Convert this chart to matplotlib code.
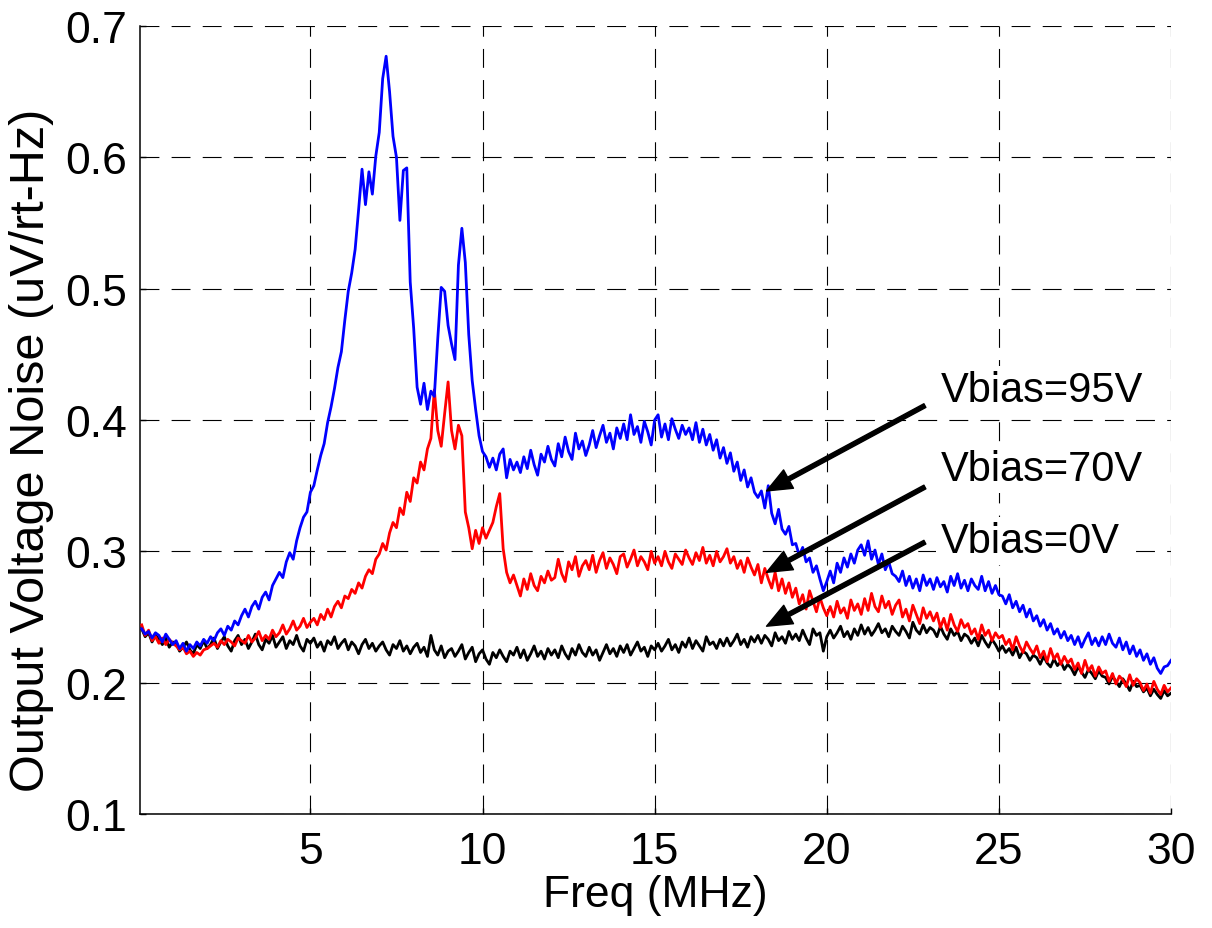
import matplotlib

matplotlib.use("Agg")
import matplotlib.pyplot as plt
import numpy as np

plt.rcParams["font.family"] = ["Liberation Sans", "DejaVu Sans"]

# frequency grid of the sweep, MHz (0.1 MHz step, 0.1 .. 30.0)
freq_mhz = np.round(np.arange(1, 301) * 0.1, 1)

# output voltage noise, uV/rt-Hz, one row per MHz
noise_95v = [
    0.241, 0.237, 0.239, 0.234, 0.238, 0.236, 0.231, 0.237, 0.233, 0.229,
    0.232, 0.226, 0.230, 0.224, 0.229, 0.226, 0.231, 0.228, 0.233, 0.230,
    0.235, 0.232, 0.238, 0.241, 0.236, 0.243, 0.240, 0.247, 0.244, 0.251,
    0.256, 0.250, 0.258, 0.262, 0.256, 0.265, 0.269, 0.263, 0.274, 0.279,
    0.284, 0.280, 0.292, 0.299, 0.294, 0.308, 0.318, 0.326, 0.330, 0.345,
    0.350, 0.362, 0.373, 0.382, 0.398, 0.410, 0.424, 0.440, 0.452, 0.476,
    0.498, 0.512, 0.530, 0.560, 0.591, 0.564, 0.589, 0.572, 0.601, 0.619,
    0.660, 0.677, 0.650, 0.616, 0.600, 0.552, 0.590, 0.592, 0.505, 0.470,
    0.425, 0.412, 0.428, 0.408, 0.422, 0.418, 0.462, 0.501, 0.498, 0.472,
    0.458, 0.446, 0.518, 0.546, 0.520, 0.465, 0.430, 0.408, 0.388, 0.376,
    0.372, 0.364, 0.371, 0.362, 0.374, 0.378, 0.356, 0.370, 0.362, 0.368,
    0.360, 0.372, 0.363, 0.377, 0.366, 0.358, 0.374, 0.368, 0.380, 0.370,
    0.365, 0.382, 0.372, 0.387, 0.376, 0.370, 0.390, 0.378, 0.384, 0.373,
    0.381, 0.392, 0.379, 0.388, 0.396, 0.383, 0.390, 0.378, 0.394, 0.386,
    0.397, 0.385, 0.404, 0.389, 0.395, 0.383, 0.399, 0.391, 0.381, 0.400,
    0.404, 0.387, 0.397, 0.385, 0.401, 0.393, 0.386, 0.396, 0.389, 0.394,
    0.385, 0.398, 0.383, 0.393, 0.381, 0.389, 0.377, 0.385, 0.371, 0.379,
    0.367, 0.375, 0.361, 0.368, 0.354, 0.362, 0.349, 0.356, 0.345, 0.341,
    0.346, 0.333, 0.350, 0.329, 0.321, 0.332, 0.317, 0.313, 0.319, 0.305,
    0.306, 0.297, 0.303, 0.292, 0.295, 0.284, 0.289, 0.279, 0.270, 0.277,
    0.285, 0.276, 0.291, 0.284, 0.295, 0.288, 0.298, 0.291, 0.301, 0.305,
    0.297, 0.308, 0.294, 0.301, 0.290, 0.298, 0.286, 0.292, 0.283, 0.281,
    0.277, 0.285, 0.274, 0.281, 0.272, 0.279, 0.270, 0.282, 0.274, 0.279,
    0.271, 0.280, 0.273, 0.277, 0.269, 0.281, 0.274, 0.283, 0.272, 0.278,
    0.270, 0.279, 0.274, 0.271, 0.281, 0.270, 0.277, 0.268, 0.274, 0.267,
    0.266, 0.260, 0.267, 0.257, 0.262, 0.254, 0.259, 0.250, 0.256, 0.247,
    0.251, 0.243, 0.248, 0.240, 0.245, 0.237, 0.241, 0.234, 0.239, 0.232,
    0.236, 0.229, 0.235, 0.227, 0.233, 0.238, 0.229, 0.234, 0.228, 0.235,
    0.229, 0.237, 0.230, 0.227, 0.234, 0.225, 0.231, 0.222, 0.228, 0.220,
    0.225, 0.217, 0.222, 0.214, 0.219, 0.211, 0.207, 0.212, 0.213, 0.217,
]

noise_70v = [
    0.244, 0.236, 0.240, 0.232, 0.235, 0.230, 0.234, 0.229, 0.233, 0.230,
    0.228, 0.225, 0.227, 0.222, 0.224, 0.220, 0.223, 0.221, 0.225, 0.226,
    0.228, 0.230, 0.227, 0.232, 0.229, 0.233, 0.231, 0.228, 0.234, 0.232,
    0.230, 0.236, 0.231, 0.234, 0.239, 0.232, 0.236, 0.233, 0.240, 0.235,
    0.238, 0.244, 0.237, 0.241, 0.247, 0.240, 0.243, 0.249, 0.242, 0.246,
    0.249, 0.244, 0.252, 0.248, 0.256, 0.250, 0.258, 0.262, 0.257, 0.266,
    0.264, 0.271, 0.268, 0.276, 0.272, 0.281, 0.286, 0.283, 0.294, 0.298,
    0.306, 0.301, 0.314, 0.322, 0.318, 0.333, 0.328, 0.345, 0.338, 0.356,
    0.352, 0.368, 0.362, 0.378, 0.386, 0.423, 0.392, 0.380, 0.405, 0.429,
    0.392, 0.378, 0.396, 0.388, 0.330, 0.318, 0.302, 0.316, 0.306, 0.318,
    0.310, 0.316, 0.322, 0.334, 0.344, 0.302, 0.284, 0.276, 0.282, 0.274,
    0.266, 0.279, 0.271, 0.283, 0.274, 0.270, 0.281, 0.276, 0.285, 0.278,
    0.280, 0.294, 0.283, 0.277, 0.292, 0.286, 0.296, 0.281, 0.289, 0.293,
    0.286, 0.297, 0.284, 0.293, 0.299, 0.287, 0.295, 0.290, 0.283, 0.296,
    0.298, 0.288, 0.294, 0.301, 0.289, 0.296, 0.292, 0.286, 0.300, 0.291,
    0.296, 0.289, 0.300, 0.292, 0.287, 0.298, 0.294, 0.290, 0.301, 0.295,
    0.290, 0.299, 0.293, 0.303, 0.291, 0.297, 0.289, 0.300, 0.292, 0.296,
    0.302, 0.291, 0.296, 0.287, 0.293, 0.284, 0.295, 0.288, 0.282, 0.290,
    0.276, 0.287, 0.279, 0.272, 0.284, 0.270, 0.279, 0.268, 0.276, 0.265,
    0.272, 0.260, 0.267, 0.256, 0.270, 0.262, 0.254, 0.265, 0.257, 0.251,
    0.258, 0.250, 0.262, 0.253, 0.257, 0.249, 0.263, 0.255, 0.260, 0.252,
    0.264, 0.255, 0.268, 0.258, 0.254, 0.266, 0.257, 0.262, 0.252, 0.259,
    0.263, 0.250, 0.256, 0.247, 0.259, 0.252, 0.245, 0.257, 0.249, 0.254,
    0.247, 0.253, 0.242, 0.249, 0.240, 0.252, 0.244, 0.239, 0.248, 0.242,
    0.245, 0.237, 0.241, 0.233, 0.244, 0.236, 0.240, 0.232, 0.238, 0.234,
    0.236, 0.229, 0.233, 0.225, 0.235, 0.228, 0.223, 0.231, 0.226, 0.222,
    0.228, 0.219, 0.224, 0.216, 0.226, 0.218, 0.222, 0.214, 0.220, 0.215,
    0.218, 0.210, 0.215, 0.207, 0.217, 0.209, 0.213, 0.205, 0.212, 0.207,
    0.209, 0.201, 0.207, 0.199, 0.205, 0.202, 0.197, 0.206, 0.198, 0.203,
    0.200, 0.194, 0.199, 0.192, 0.201, 0.195, 0.191, 0.198, 0.193, 0.196,
]

noise_0v = [
    0.241, 0.235, 0.238, 0.231, 0.236, 0.233, 0.229, 0.234, 0.227, 0.231,
    0.230, 0.224, 0.227, 0.231, 0.225, 0.222, 0.229, 0.226, 0.232, 0.226,
    0.229, 0.234, 0.226, 0.231, 0.235, 0.228, 0.224, 0.232, 0.236, 0.229,
    0.233, 0.226, 0.231, 0.237, 0.229, 0.225, 0.233, 0.230, 0.236, 0.227,
    0.231, 0.235, 0.226, 0.232, 0.229, 0.236, 0.228, 0.224, 0.233, 0.230,
    0.234, 0.227, 0.231, 0.224, 0.232, 0.229, 0.235, 0.226, 0.230, 0.233,
    0.225, 0.231, 0.228, 0.222, 0.229, 0.233, 0.226, 0.230, 0.224, 0.228,
    0.231, 0.225, 0.221, 0.229, 0.226, 0.232, 0.224, 0.228, 0.222, 0.227,
    0.230, 0.223, 0.227, 0.220, 0.236, 0.225, 0.221, 0.228, 0.219, 0.224,
    0.226, 0.220, 0.224, 0.229, 0.218, 0.223, 0.227, 0.216, 0.222, 0.225,
    0.218, 0.214, 0.223, 0.219, 0.225, 0.220, 0.216, 0.224, 0.221, 0.227,
    0.219, 0.225, 0.217, 0.222, 0.228, 0.220, 0.224, 0.218, 0.226, 0.221,
    0.225, 0.219, 0.228, 0.222, 0.218, 0.226, 0.221, 0.229, 0.223, 0.220,
    0.227, 0.221, 0.225, 0.217, 0.223, 0.229, 0.222, 0.226, 0.220, 0.228,
    0.223, 0.229, 0.221, 0.226, 0.231, 0.224, 0.227, 0.220, 0.228, 0.225,
    0.230, 0.224, 0.228, 0.233, 0.225, 0.229, 0.223, 0.231, 0.227, 0.234,
    0.226, 0.232, 0.228, 0.224, 0.235, 0.229, 0.231, 0.226, 0.233, 0.228,
    0.234, 0.228, 0.232, 0.237, 0.229, 0.233, 0.227, 0.235, 0.231, 0.236,
    0.230, 0.236, 0.233, 0.228, 0.238, 0.232, 0.235, 0.230, 0.239, 0.233,
    0.237, 0.232, 0.240, 0.234, 0.229, 0.241, 0.236, 0.238, 0.224, 0.235,
    0.240, 0.234, 0.238, 0.243, 0.235, 0.239, 0.233, 0.241, 0.236, 0.244,
    0.237, 0.242, 0.236, 0.240, 0.245, 0.238, 0.241, 0.235, 0.243, 0.239,
    0.236, 0.243, 0.239, 0.234, 0.246, 0.240, 0.237, 0.244, 0.238, 0.242,
    0.240, 0.235, 0.243, 0.237, 0.233, 0.241, 0.236, 0.239, 0.232, 0.237,
    0.235, 0.230, 0.234, 0.228, 0.236, 0.231, 0.227, 0.233, 0.229, 0.224,
    0.228, 0.223, 0.226, 0.221, 0.227, 0.219, 0.224, 0.222, 0.217, 0.221,
    0.219, 0.214, 0.220, 0.215, 0.212, 0.218, 0.213, 0.216, 0.210, 0.214,
    0.211, 0.206, 0.212, 0.208, 0.204, 0.210, 0.207, 0.203, 0.209, 0.205,
    0.204, 0.199, 0.205, 0.201, 0.197, 0.203, 0.199, 0.194, 0.201, 0.197,
    0.198, 0.193, 0.196, 0.190, 0.195, 0.191, 0.188, 0.194, 0.190, 0.192,
]

labels = ["Vbias=95V", "Vbias=70V", "Vbias=0V"]
# label anchor, arrow tail and arrow head, in data coords
label_xy = [(23.3, 0.423), (23.3, 0.363), (23.3, 0.308)]
tail_xy = [(22.85, 0.411), (22.85, 0.349), (22.85, 0.307)]
head_xy = [(18.25, 0.346), (18.25, 0.284), (18.25, 0.243)]

x_ticks = [5, 10, 15, 20, 25, 30]
y_ticks = [0.1, 0.2, 0.3, 0.4, 0.5, 0.6, 0.7]

fig = plt.figure(figsize=(12.12, 9.29), dpi=100)
ax = fig.add_axes([0.1155, 0.1227, 0.8507, 0.8482])

ax.plot(freq_mhz, noise_0v, color="black", lw=2.0, zorder=3)
ax.plot(freq_mhz, noise_70v, color="red", lw=2.0, zorder=3)
ax.plot(freq_mhz, noise_95v, color="blue", lw=2.0, zorder=3)

for text, txy, a_tail, a_head in zip(labels, label_xy, tail_xy, head_xy):
    ax.text(txy[0], txy[1], text, fontsize=30, ha="left", va="center", zorder=5,
            bbox=dict(facecolor="white", edgecolor="none", pad=3))
    ax.annotate("", xy=a_head, xytext=a_tail, zorder=6,
                arrowprops=dict(facecolor="black", edgecolor="black", width=3,
                                headwidth=15, headlength=18, shrink=0))

ax.set_xlim(0.05, 30)
ax.set_ylim(0.1, 0.7)
ax.set_xticks(x_ticks)
ax.set_yticks(y_ticks)
ax.set_yticklabels([f"{v:.1f}" for v in y_ticks])
ax.tick_params(direction="in", length=4, width=1, labelsize=32)
ax.tick_params(axis="x", pad=12)
ax.tick_params(axis="y", pad=9)
ax.grid(True, color="black", lw=0.8, dashes=(17, 11))
ax.set_axisbelow(True)
for side in ["top", "right"]:
    ax.spines[side].set_visible(False)
for side in ["left", "bottom"]:
    ax.spines[side].set_linewidth(1.1)

ax.set_xlabel("Freq (MHz)", fontsize=32, labelpad=2)
ax.set_ylabel("Output Voltage Noise (uV/rt-Hz)", fontsize=35)
ax.yaxis.set_label_coords(-0.083, 0.463)

fig.savefig("out.png", dpi=100)
